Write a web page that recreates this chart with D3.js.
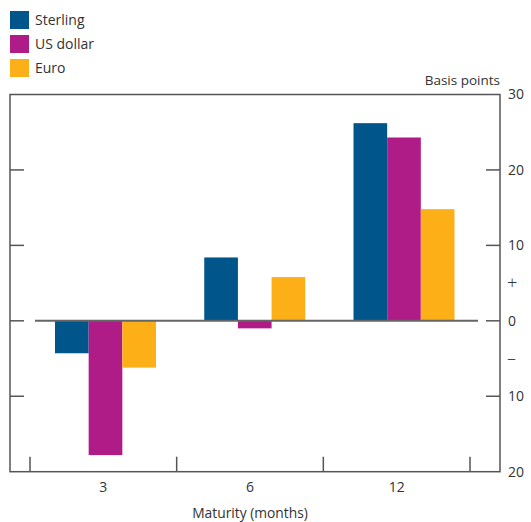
<!DOCTYPE html>
<html><head><meta charset="utf-8">
<script src="https://cdn.jsdelivr.net/npm/d3@7"></script>
<style>body{margin:0;background:#fff}svg{display:block;font-family:"Open Sans",sans-serif}</style>
</head><body><svg id="c" width="531" height="522"></svg>
<script>
const categories = ["3", "6", "12"];
const seriesNames = ["Sterling", "US dollar", "Euro"];
const sterling = [-4.3, 8.4, 26.2];
const usDollar = [-17.8, -1.0, 24.3];
const euro = [-6.2, 5.8, 14.8];
const yTicks = [30, 20, 10, 0, -10, -20];
const colors = ["#00568a", "#b01c87", "#fdaf17"];
const series = [sterling, usDollar, euro];

const svg = d3.select("#c");
const L = 10, R = 500, T = 94.5, B = 471.7;
const axisCol = "#555";

const y = d3.scaleLinear().domain([-20, 30]).range([B, T]);
const xCat = d3.scaleBand().domain(categories).range([30, 470]);
const xBar = d3.scalePoint().domain(categories).range([105.5, 404]);
const xSub = d3.scaleBand().domain(seriesNames).range([-50.5, 50.5]);

// bars
seriesNames.forEach((s, si) => {
  svg.append("g").selectAll("rect").data(categories).join("rect")
    .attr("x", c => xBar(c) + xSub(s))
    .attr("width", xSub.bandwidth())
    .attr("y", (c, i) => y(Math.max(0, series[si][i])))
    .attr("height", (c, i) => Math.abs(y(series[si][i]) - y(0)))
    .attr("fill", colors[si]);
});

// zero line
svg.append("line").attr("x1", 35).attr("x2", 478).attr("y1", y(0)).attr("y2", y(0))
  .attr("stroke", "#666").attr("stroke-width", 2);

// frame
svg.append("rect").attr("x", L).attr("y", T).attr("width", R - L).attr("height", B - T)
  .attr("fill", "none").attr("stroke", axisCol).attr("stroke-width", 1.5);

// y ticks left and right
yTicks.forEach(t => {
  if (t === 30 || t === -20) return;
  svg.append("line").attr("x1", L).attr("x2", L + 14).attr("y1", y(t)).attr("y2", y(t))
    .attr("stroke", axisCol).attr("stroke-width", 1.5);
  svg.append("line").attr("x1", R - 14).attr("x2", R).attr("y1", y(t)).attr("y2", y(t))
    .attr("stroke", axisCol).attr("stroke-width", 1.5);
});
svg.append("g").selectAll("text").data(yTicks).join("text")
  .attr("x", 508).attr("y", d => y(d)).attr("dy", "0.35em")
  .attr("font-size", 14).attr("fill", "#333")
  .text(d => Math.abs(d));
svg.append("text").attr("x", 507).attr("y", y(5)).attr("dy", "0.35em")
  .attr("font-size", 18).attr("font-weight", 300).attr("fill", "#333").text("+");
svg.append("text").attr("x", 507).attr("y", y(-5)).attr("dy", "0.35em")
  .attr("font-size", 18).attr("font-weight", 300).attr("fill", "#333").text("\u2013");
svg.append("text").attr("x", 500).attr("y", 80).attr("dy", "0.35em")
  .attr("text-anchor", "end").attr("font-size", 13.5).attr("fill", "#333").text("Basis points");

// x ticks at boundaries
const bounds = categories.map(c => xCat(c)).concat([xCat.range()[1]]);
svg.append("g").selectAll("line").data(bounds).join("line")
  .attr("x1", d => d).attr("x2", d => d).attr("y1", B - 15).attr("y2", B)
  .attr("stroke", axisCol).attr("stroke-width", 1.5);
svg.append("g").selectAll("text").data(categories).join("text")
  .attr("x", c => xCat(c) + xCat.bandwidth() / 2).attr("y", 487).attr("dy", "0.35em")
  .attr("text-anchor", "middle").attr("font-size", 14).attr("fill", "#333").text(c => c);
svg.append("text").attr("x", 250).attr("y", 513).attr("dy", "0.35em")
  .attr("text-anchor", "middle").attr("font-size", 13.8).attr("fill", "#333").text("Maturity (months)");

// legend
seriesNames.forEach((s, i) => {
  const yy = 11 + i * 24;
  svg.append("rect").attr("x", 10).attr("y", yy).attr("width", 19).attr("height", 18).attr("fill", colors[i]);
  svg.append("text").attr("x", 35).attr("y", yy + 9).attr("dy", "0.35em")
    .attr("font-size", 14).attr("fill", "#333").text(s);
});
</script></body></html>
